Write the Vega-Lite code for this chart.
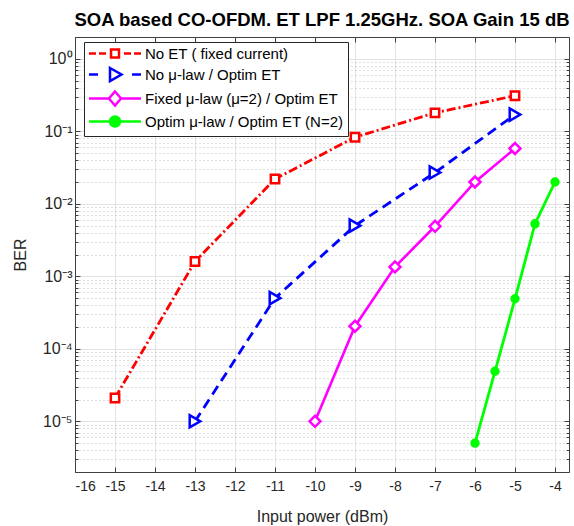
{
  "$schema": "https://vega.github.io/schema/vega-lite/v6.json",
  "width": 494,
  "height": 435,
  "autosize": {"type": "none"},
  "padding": {"left": 75, "top": 37, "right": 5, "bottom": 54},
  "background": "white",
  "title": {"text": "SOA based CO-OFDM. ET LPF 1.25GHz. SOA Gain 15 dB", "font": "Liberation Sans", "fontSize": 18.5, "fontWeight": "bold", "color": "#000000", "anchor": "middle", "offset": 7},
  "config": {"view": {"stroke": null}, "font": "Liberation Sans",
    "legend": {"orient": "none", "legendX": 9, "legendY": 5, "title": null, "strokeColor": "#262626", "fillColor": "#ffffff", "padding": 4, "labelFont": "Liberation Sans", "labelFontSize": 15, "labelColor": "#000000", "symbolSize": 100, "symbolStrokeWidth": 2.5, "symbolOpacity": 1, "labelOffset": 42, "rowPadding": 0, "labelLimit": 400, "labelExpr": "replace(datum.label, '  ', ' \u00a0')"}},
  "data": {"values": [
    {"series": "No ET ( fixed current)", "power": -15, "ber": 2.1e-5},
    {"series": "No ET ( fixed current)", "power": -13, "ber": 1.6e-3},
    {"series": "No ET ( fixed current)", "power": -11, "ber": 2.2e-2},
    {"series": "No ET ( fixed current)", "power": -9, "ber": 8.3e-2},
    {"series": "No ET ( fixed current)", "power": -7, "ber": 0.18},
    {"series": "No ET ( fixed current)", "power": -5, "ber": 0.31},
    {"series": "No μ-law / Optim ET", "power": -13, "ber": 1.0e-5},
    {"series": "No μ-law / Optim ET", "power": -11, "ber": 5.0e-4},
    {"series": "No μ-law / Optim ET", "power": -9, "ber": 5.0e-3},
    {"series": "No μ-law / Optim ET", "power": -7, "ber": 2.7e-2},
    {"series": "No μ-law / Optim ET", "power": -5, "ber": 0.17},
    {"series": "Fixed  μ-law (μ=2) / Optim ET", "power": -10, "ber": 1.0e-5},
    {"series": "Fixed  μ-law (μ=2) / Optim ET", "power": -9, "ber": 2.05e-4},
    {"series": "Fixed  μ-law (μ=2) / Optim ET", "power": -8, "ber": 1.35e-3},
    {"series": "Fixed  μ-law (μ=2) / Optim ET", "power": -7, "ber": 4.9e-3},
    {"series": "Fixed  μ-law (μ=2) / Optim ET", "power": -6, "ber": 2.0e-2},
    {"series": "Fixed  μ-law (μ=2) / Optim ET", "power": -5, "ber": 5.8e-2},
    {"series": "Optim μ-law / Optim ET (N=2)", "power": -6, "ber": 5.0e-6},
    {"series": "Optim μ-law / Optim ET (N=2)", "power": -5.5, "ber": 4.9e-5},
    {"series": "Optim μ-law / Optim ET (N=2)", "power": -5, "ber": 4.9e-4},
    {"series": "Optim μ-law / Optim ET (N=2)", "power": -4.5, "ber": 5.3e-3},
    {"series": "Optim μ-law / Optim ET (N=2)", "power": -4, "ber": 2.0e-2}
  ]},
  "layer": [
    {
      "transform": [{"filter": "datum.series == 'No ET ( fixed current)'"}],
      "mark": {"type": "line", "strokeWidth": 2.8, "strokeDash": [9, 3, 2, 3]},
      "encoding": {
        "x": {"field": "power", "type": "quantitative", "scale": {"domain": [-16, -3.65], "nice": false, "zero": false},
          "axis": {"orient": "bottom", "values": [-16, -15, -14, -13, -12, -11, -10, -9, -8, -7, -6, -5, -4], "labelExpr": "'' + datum.value", "title": "Input power (dBm)", "grid": true, "gridColor": "#e2e2e2", "gridWidth": 1, "tickSize": -5, "tickColor": "#404040", "domainColor": "#404040", "labelFontSize": 14, "labelColor": "#262626", "labelPadding": 12, "titleFontSize": 16, "titleFontWeight": "normal", "titleColor": "#262626", "titlePadding": 15}},
        "y": {"field": "ber", "type": "quantitative", "scale": {"type": "log", "domain": [2e-6, 2], "nice": false},
          "axis": {"orient": "left",
            "values": [2e-6, 3e-6, 4e-6, 5e-6, 6e-6, 7e-6, 8e-6, 9e-6, 1e-5, 2e-5, 3e-5, 4e-5, 5e-5, 6e-5, 7e-5, 8e-5, 9e-5, 1e-4, 2e-4, 3e-4, 4e-4, 5e-4, 6e-4, 7e-4, 8e-4, 9e-4, 0.001, 0.002, 0.003, 0.004, 0.005, 0.006, 0.007, 0.008, 0.009, 0.01, 0.02, 0.03, 0.04, 0.05, 0.06, 0.07, 0.08, 0.09, 0.1, 0.2, 0.3, 0.4, 0.5, 0.6, 0.7, 0.8, 0.9, 1, 2],
            "labelExpr": "datum.value==1?'10⁰':datum.value==0.1?'10⁻¹':datum.value==0.01?'10⁻²':datum.value==0.001?'10⁻³':datum.value==0.0001?'10⁻⁴':datum.value==0.00001?'10⁻⁵':''",
            "title": "BER", "grid": true,
            "gridColor": {"condition": {"test": "abs(log(datum.value)/LN10 - round(log(datum.value)/LN10)) < 0.001", "value": "#e2e2e2"}, "value": "#bdbdbd"},
            "gridDash": {"condition": {"test": "abs(log(datum.value)/LN10 - round(log(datum.value)/LN10)) < 0.001", "value": []}, "value": [1, 3]},
            "tickSize": {"condition": {"test": "abs(log(datum.value)/LN10 - round(log(datum.value)/LN10)) < 0.001", "value": -5}, "value": -3},
            "tickColor": "#404040", "domainColor": "#404040", "labelFontSize": 16, "labelColor": "#262626", "labelPadding": 8, "titleFontSize": 16, "titleFontWeight": "normal", "titleColor": "#262626", "titlePadding": 14}},
        "stroke": {"field": "series", "type": "nominal", "scale": {"domain": ["No ET ( fixed current)", "No μ-law / Optim ET", "Fixed  μ-law (μ=2) / Optim ET", "Optim μ-law / Optim ET (N=2)"], "range": ["#ff0000", "#0000ff", "#ff00ff", "#00ff00"]}}
      }
    },
    {
      "transform": [{"filter": "datum.series == 'No μ-law / Optim ET'"}],
      "mark": {"type": "line", "strokeWidth": 2.8, "strokeDash": [10, 6]},
      "encoding": {
        "x": {"field": "power", "type": "quantitative", "axis": null},
        "y": {"field": "ber", "type": "quantitative", "axis": null},
        "stroke": {"field": "series", "type": "nominal"}
      }
    },
    {
      "transform": [{"filter": "datum.series == 'Fixed  μ-law (μ=2) / Optim ET'"}],
      "mark": {"type": "line", "strokeWidth": 2.6},
      "encoding": {
        "x": {"field": "power", "type": "quantitative", "axis": null},
        "y": {"field": "ber", "type": "quantitative", "axis": null},
        "stroke": {"field": "series", "type": "nominal"}
      }
    },
    {
      "transform": [{"filter": "datum.series == 'Optim μ-law / Optim ET (N=2)'"}],
      "mark": {"type": "line", "strokeWidth": 2.8},
      "encoding": {
        "x": {"field": "power", "type": "quantitative", "axis": null},
        "y": {"field": "ber", "type": "quantitative", "axis": null},
        "stroke": {"field": "series", "type": "nominal"}
      }
    },
    {
      "transform": [{"filter": "datum.series == 'No ET ( fixed current)'"}],
      "mark": {"type": "point", "shape": "square", "size": 70, "strokeWidth": 2.5, "fill": "#ffffff", "opacity": 1},
      "encoding": {
        "x": {"field": "power", "type": "quantitative",
          "axis": {"orient": "top", "values": [-16, -15, -14, -13, -12, -11, -10, -9, -8, -7, -6, -5, -4], "labels": false, "title": null, "grid": false, "tickSize": -5, "tickColor": "#404040", "domainColor": "#404040"}},
        "y": {"field": "ber", "type": "quantitative",
          "axis": {"orient": "right",
            "values": [2e-6, 3e-6, 4e-6, 5e-6, 6e-6, 7e-6, 8e-6, 9e-6, 1e-5, 2e-5, 3e-5, 4e-5, 5e-5, 6e-5, 7e-5, 8e-5, 9e-5, 1e-4, 2e-4, 3e-4, 4e-4, 5e-4, 6e-4, 7e-4, 8e-4, 9e-4, 0.001, 0.002, 0.003, 0.004, 0.005, 0.006, 0.007, 0.008, 0.009, 0.01, 0.02, 0.03, 0.04, 0.05, 0.06, 0.07, 0.08, 0.09, 0.1, 0.2, 0.3, 0.4, 0.5, 0.6, 0.7, 0.8, 0.9, 1, 2],
            "labels": false, "title": null, "grid": false,
            "tickSize": {"condition": {"test": "abs(log(datum.value)/LN10 - round(log(datum.value)/LN10)) < 0.001", "value": -5}, "value": -3},
            "tickColor": "#404040", "domainColor": "#404040"}},
        "stroke": {"field": "series", "type": "nominal"}
      }
    },
    {
      "transform": [{"filter": "datum.series == 'No μ-law / Optim ET'"}],
      "mark": {"type": "point", "shape": "triangle-right", "size": 150, "strokeWidth": 2.5, "fill": "#ffffff", "opacity": 1},
      "encoding": {
        "x": {"field": "power", "type": "quantitative", "axis": null},
        "y": {"field": "ber", "type": "quantitative", "axis": null},
        "stroke": {"field": "series", "type": "nominal"}
      }
    },
    {
      "transform": [{"filter": "datum.series == 'Fixed  μ-law (μ=2) / Optim ET'"}],
      "mark": {"type": "point", "shape": "diamond", "size": 120, "strokeWidth": 2.5, "fill": "#ffffff", "opacity": 1},
      "encoding": {
        "x": {"field": "power", "type": "quantitative", "axis": null},
        "y": {"field": "ber", "type": "quantitative", "axis": null},
        "stroke": {"field": "series", "type": "nominal"}
      }
    },
    {
      "transform": [{"filter": "datum.series == 'Optim μ-law / Optim ET (N=2)'"}],
      "mark": {"type": "point", "shape": "circle", "size": 55, "strokeWidth": 2, "fill": "#00ff00", "opacity": 1},
      "encoding": {
        "x": {"field": "power", "type": "quantitative", "axis": null},
        "y": {"field": "ber", "type": "quantitative", "axis": null},
        "stroke": {"field": "series", "type": "nominal"}
      }
    },
    {
      "mark": {"type": "point", "strokeWidth": 2.5, "opacity": 0},
      "encoding": {
        "x": {"field": "power", "type": "quantitative", "axis": null},
        "y": {"field": "ber", "type": "quantitative", "axis": null},
        "shape": {"field": "series", "type": "nominal", "scale": {"domain": ["No ET ( fixed current)", "No μ-law / Optim ET", "Fixed  μ-law (μ=2) / Optim ET", "Optim μ-law / Optim ET (N=2)"],
          "range": [
            "M-1.3,0H0.1M0.7,0H2.1M3.1,-0.8H4.7V0.8H3.1ZM5.7,0H7.1M7.7,0H9.1",
            "M-1.3,0H0.5M2.9,-1.3L5.2,0L2.9,1.3ZM7.3,0H9.1",
            "M-1.3,0H2.7M3.9,-1.4L5.1,0L3.9,1.4L2.7,0ZM5.1,0H9.1",
            "M-1.3,0H9.1M2.9,0A1,1,0,1,1,4.9,0A1,1,0,1,1,2.9,0Z"
          ]}},
        "stroke": {"field": "series", "type": "nominal"},
        "fill": {"field": "series", "type": "nominal", "scale": {"domain": ["No ET ( fixed current)", "No μ-law / Optim ET", "Fixed  μ-law (μ=2) / Optim ET", "Optim μ-law / Optim ET (N=2)"], "range": ["#ffffff", "#ffffff", "#ffffff", "#00ff00"]}}
      }
    }
  ]
}
